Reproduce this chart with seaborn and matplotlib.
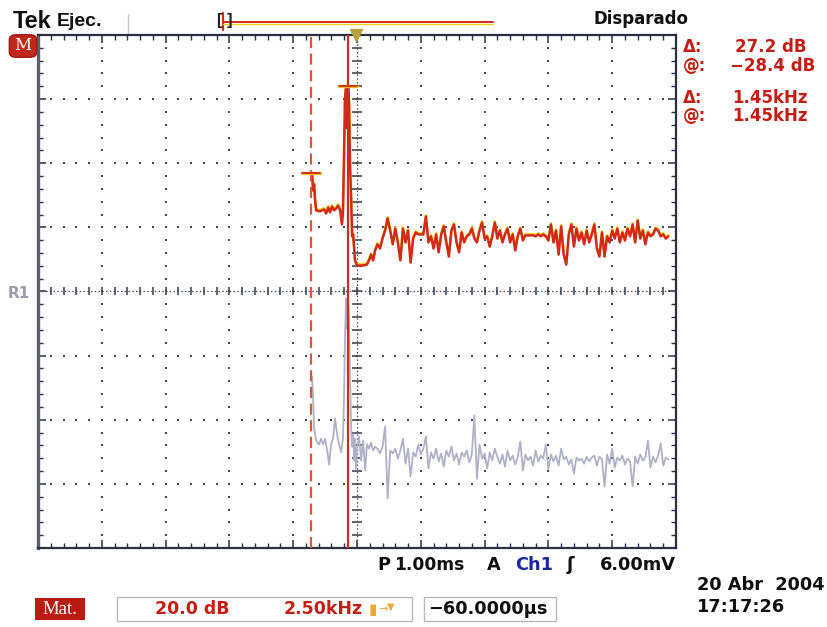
import numpy as np
import matplotlib
matplotlib.use("Agg")
import matplotlib.pyplot as plt
import matplotlib.transforms as mtransforms
from matplotlib.patches import FancyBboxPatch, Rectangle
import seaborn as sns

# ---------------------------------------------------------------------------
# Math (FFT) trace: frequency in kHz, level in dB
red_khz = [0.00, 0.04, 0.08, 0.12, 0.16, 0.20, 0.35, 0.51, 0.59, 0.67, 0.74, 0.82,
           0.90, 0.98, 1.06, 1.14, 1.21, 1.25, 1.29, 1.33, 1.37, 1.41, 1.45, 1.49,
           1.53, 1.57, 1.61, 1.65, 1.72, 1.80, 2.04, 2.19, 2.27, 2.35, 2.43, 2.51,
           2.6, 2.7, 2.8, 2.9, 3.0, 3.1, 3.2, 3.3, 3.4, 3.5, 3.6, 3.7, 3.8, 3.9,
           4.0, 4.1, 4.2, 4.3, 4.4, 4.5, 4.6, 4.7, 4.8, 4.9, 5.0, 5.1, 5.2, 5.3,
           5.4, 5.5, 5.6, 5.7, 5.8, 5.9, 6.0, 6.1, 6.2, 6.3, 6.4, 6.5, 6.6, 6.7,
           6.8, 6.9, 7.0, 7.1, 7.2, 7.3, 7.4, 7.5, 7.6, 7.7, 7.8, 7.9, 8.0, 8.1,
           8.2, 8.3, 8.4, 8.5, 8.6, 8.7, 8.8, 8.9, 9.0, 9.1, 9.2, 9.3, 9.4, 9.5,
           9.6, 9.7, 9.8, 9.9, 10.0, 10.1, 10.2, 10.3, 10.4, 10.5, 10.6, 10.7,
           10.8, 10.9, 11.0, 11.1, 11.2, 11.3, 11.4, 11.5, 11.6, 11.7, 11.8, 11.9,
           12.0, 12.1, 12.2, 12.3, 12.4, 12.5, 12.6, 12.7, 12.8, 12.9, 13.0, 13.1,
           13.2, 13.3, 13.4, 13.5, 13.6, 13.7, 13.8, 13.9, 14.0]
red_db = [-55.6, -56.1, -61.1, -59.2, -64.5, -67.3, -67.6, -67.0, -68.3, -66.4, -67.9, -66.1,
          -67.3, -66.7, -65.8, -67.3, -71.7, -67.9, -51.1, -32.4, -29.3, -41.7, -28.4, -34.0,
          -54.2, -63.6, -75.4, -74.8, -82.9, -84.5, -84.5, -84.2, -82.9, -81.1, -82.9, -79.8,
          -77.9, -79.2, -76.1, -73.6, -69.8, -73.6, -77.9, -73.0, -77.3, -82.9, -73.0, -77.3, -73.6, -83.6,
          -76.1, -74.2, -74.8, -74.8, -74.8, -69.2, -77.3, -75.4, -79.2, -74.8, -80.4, -74.8, -72.3, -77.3,
          -81.7, -73.6, -71.7, -77.3, -80.4, -74.2, -77.3, -75.4, -74.8, -73.0, -76.1, -77.3, -73.6, -71.1,
          -76.1, -75.4, -78.6, -75.4, -71.1, -76.1, -73.6, -77.3, -74.8, -73.0, -77.3, -74.8, -79.8, -75.4,
          -73.0, -76.7, -75.1, -75.1, -75.1, -75.1, -75.4, -74.8, -75.4, -74.8, -75.4, -76.7, -71.7, -77.3,
          -73.6, -81.1, -72.3, -81.1, -84.2, -74.8, -71.7, -78.6, -73.0, -76.7, -74.2, -77.9,
          -73.6, -77.3, -74.8, -71.7, -79.2, -81.7, -74.2, -81.7, -75.4, -77.3, -73.6, -76.1,
          -73.0, -77.3, -74.2, -76.7, -73.0, -75.4, -71.7, -77.3, -70.5, -76.1, -73.6, -77.9,
          -74.2, -75.4, -74.8, -73.0, -73.6, -75.4, -74.8, -76.1, -75.4]

# Stored reference waveform R1 (same frequency axis)
ref_khz = [0.04, 0.08, 0.12, 0.20, 0.31, 0.39, 0.47, 0.55, 0.63, 0.71, 0.78, 0.86,
           0.94, 1.02, 1.10, 1.18, 1.25, 1.29, 1.33, 1.37, 1.41, 1.45, 1.49, 1.53,
           1.57, 1.61, 1.65, 1.69, 1.72, 1.76, 1.80, 1.88, 1.96, 2.04, 2.12, 2.19,
           2.27, 2.35, 2.43, 2.51,
           2.6, 2.7, 2.8, 2.9, 3.0, 3.1, 3.2, 3.3, 3.4, 3.5, 3.6, 3.7, 3.8, 3.9,
           4.0, 4.1, 4.2, 4.3, 4.4, 4.5, 4.6, 4.7, 4.8, 4.9, 5.0, 5.1, 5.2, 5.3,
           5.4, 5.5, 5.6, 5.7, 5.8, 5.9, 6.0, 6.1, 6.2, 6.3, 6.4, 6.5, 6.6, 6.7,
           6.8, 6.9, 7.0, 7.1, 7.2, 7.3, 7.4, 7.5, 7.6, 7.7, 7.8, 7.9, 8.0, 8.1,
           8.2, 8.3, 8.4, 8.5, 8.6, 8.7, 8.8, 8.9, 9.0, 9.1, 9.2, 9.3, 9.4, 9.5,
           9.6, 9.7, 9.8, 9.9, 10.0, 10.1, 10.2, 10.3, 10.4, 10.5, 10.6, 10.7,
           10.8, 10.9, 11.0, 11.1, 11.2, 11.3, 11.4, 11.5, 11.6, 11.7, 11.8, 11.9,
           12.0, 12.1, 12.2, 12.3, 12.4, 12.5, 12.6, 12.7, 12.8, 12.9, 13.0, 13.1,
           13.2, 13.3, 13.4, 13.5, 13.6, 13.7, 13.8, 13.9, 14.0]
ref_db = [-119.1, -126.0, -135.3, -139.1, -140.3, -138.5, -140.3, -138.5, -142.2, -146.6, -140.3, -138.5,
          -132.2, -137.2, -140.3, -142.8, -138.5, -126.0, -107.3, -94.8, -104.1, -94.8, -101.0, -119.7,
          -135.3, -141.0, -137.2, -145.3, -138.5, -147.8, -141.6, -137.8, -145.3, -139.1, -148.4, -140.3,
          -141.6, -139.7, -142.2, -141.0,
          -141.6, -143.1, -141.0, -134.7, -157.2, -142.2, -143.1, -141.6, -144.7, -142.2, -138.5, -146.3, -141.6, -150.3,
          -142.8, -144.1, -140.3, -143.4, -141.6, -137.8, -147.8, -142.8, -144.7, -141.6, -145.6, -143.1, -147.2, -142.2,
          -144.1, -140.9, -145.3, -143.1, -146.6, -142.8, -144.1, -142.2, -145.9, -143.4, -131.3, -151.0, -140.3, -144.7,
          -143.1, -147.8, -142.8, -145.3, -141.6, -144.1, -146.3, -143.4, -147.2, -142.2, -145.3, -143.8, -146.6, -144.1,
          -139.4, -148.4, -143.4, -145.3, -144.1, -146.9, -142.2, -145.6, -143.8, -144.7, -140.3, -148.1, -143.4, -145.6,
          -143.8, -146.9, -141.6, -145.0, -144.1, -146.6, -145.0, -149.4, -144.4, -145.3, -144.7, -146.3,
          -144.1, -145.6, -144.4, -143.8, -146.9, -144.1, -145.0, -153.4, -143.4, -146.3, -141.6, -147.5,
          -144.4, -145.3, -143.8, -146.6, -144.7, -145.6, -153.4, -144.1, -146.3, -143.4, -145.3, -144.4,
          -139.1, -147.5, -144.1, -145.9, -143.8, -140.0, -146.9, -144.4, -145.0]

# Cursor pair (frequency, level)
cursor_khz = [0.0, 1.45]
cursor_db = [-55.6, -28.4]

# Screen scaling
khz_per_div = 2.5
db_per_div = 20.0
x_left = -10.7
y_mid = -92.6

# ---------------------------------------------------------------------------
sns.set_style("white")
plt.rcParams["font.family"] = ["DejaVu Sans"]

W, H = 828, 627
fig = plt.figure(figsize=(W / 100, H / 100), dpi=100)
fig.patch.set_facecolor("white")


def fp(x, y):
    return x / W, 1 - y / H


L, R, T, B = 38, 676, 35, 548
ax = fig.add_axes([L / W, 1 - B / H, (R - L) / W, (B - T) / H])
x_right = x_left + 10 * khz_per_div
y_bot = y_mid - 4 * db_per_div
y_top = y_mid + 4 * db_per_div
ax.set_xlim(x_left, x_right)
ax.set_ylim(y_bot, y_top)
ax.set_facecolor("white")

# graticule ---------------------------------------------------------------
grid_col = "#44485a"
xs_major = [x_left + k * khz_per_div for k in range(11)]
ys_major = [y_bot + k * db_per_div for k in range(9)]
xs_fine = np.linspace(x_left, x_right, 51)
ys_fine = np.linspace(y_bot, y_top, 41)
xc = x_left + 5 * khz_per_div
for xv in xs_major[1:-1]:
    if abs(xv - xc) < 1e-6:
        continue
    ax.plot([xv] * len(ys_fine), ys_fine, ls="none", marker="s", ms=1.7,
            color=grid_col, mew=0, zorder=1)
for yv in ys_major[1:-1]:
    if abs(yv - y_mid) < 1e-6:
        continue
    ax.plot(xs_fine, [yv] * len(xs_fine), ls="none", marker="s", ms=1.7,
            color=grid_col, mew=0, zorder=1)

# centre cross-hair with minor ticks
ax.plot([x_left, x_right], [y_mid, y_mid], color=grid_col, lw=0.9,
        ls=(0, (1.2, 1.8)), zorder=1)
ax.plot([xc, xc], [y_bot, y_top], color=grid_col, lw=0.9,
        ls=(0, (1.2, 1.8)), zorder=1)
ax.plot(xs_fine, [y_mid] * len(xs_fine), ls="none", marker="|", ms=6,
        mew=1.2, color=grid_col, zorder=1)
ax.plot([xc] * len(ys_fine), ys_fine, ls="none", marker="_", ms=7,
        mew=1.2, color=grid_col, zorder=1)

ax.set_xticks(xs_major)
ax.set_yticks(ys_major)
ax.set_xticks(xs_fine, minor=True)
ax.set_yticks(ys_fine, minor=True)
ax.tick_params(which="both", direction="in", top=True, right=True,
               bottom=True, left=True, labelbottom=False, labelleft=False,
               color="#2a3040")
ax.tick_params(which="major", length=6, width=1.1)
ax.tick_params(which="minor", length=3.5, width=1.0)
for side, sp in ax.spines.items():
    sp.set_color("#2a3040")
    sp.set_linewidth(1.6)
ax.spines["left"].set_color("#5a6070")
ax.spines["left"].set_linewidth(2.4)

# traces ------------------------------------------------------------------
sns.lineplot(x=ref_khz, y=ref_db, ax=ax, color="#b0b0c6", lw=1.3,
             estimator=None, sort=False, zorder=3)

up = mtransforms.offset_copy(ax.transData, fig=fig, x=0, y=1.3, units="dots")
sns.lineplot(x=red_khz, y=red_db, ax=ax, color="#f2d21a", lw=1.7,
             estimator=None, sort=False, zorder=4)
ax.lines[-1].set_transform(up)
sns.lineplot(x=red_khz, y=red_db, ax=ax, color="#d4281a", lw=1.8,
             estimator=None, sort=False, zorder=5)

# cursors
ax.axvline(cursor_khz[0], color="#d85a30", lw=1.6, ls=(0, (5, 2.5)), zorder=6)
ax.axvline(cursor_khz[1], color="#c8301c", lw=1.6, zorder=6)
half = 0.35
for cx, cy in zip(cursor_khz, cursor_db):
    ax.plot([cx - half, cx + half], [cy, cy], color="#f0c020", lw=2.4, zorder=7)
    ax.plot([cx - half, cx + half], [cy, cy], color="#d4281a", lw=1.3, zorder=8)

# trigger-level marker on top edge
ax.plot([xc - 0.03], [y_top], marker="v", ms=8, color="#b8a040",
        clip_on=False, zorder=9)

# header ------------------------------------------------------------------
fig.text(*fp(13, 22), "Tek", fontsize=17, fontweight="heavy",
         va="center", ha="left", color="#101010", family="Liberation Sans")
fig.text(*fp(57, 22), "Ejec.", fontsize=14, fontweight="bold",
         va="center", ha="left", color="#101010", family="Liberation Sans")
fig.add_artist(plt.Line2D([128 / W, 128 / W], [1 - 14 / H, 1 - 33 / H],
                          color="#c8c8d0", lw=1.0))
# trigger position bracket and record bar
fig.text(*fp(216, 21), "[", fontsize=12, fontweight="bold",
         va="center", ha="left", color="#202020", family="Liberation Sans")
fig.text(*fp(227, 21), "]", fontsize=12, fontweight="bold",
         va="center", ha="left", color="#202020", family="Liberation Sans")
fig.add_artist(plt.Line2D([223 / W, 223 / W], [1 - 13 / H, 1 - 30 / H],
                          color="#d4281a", lw=1.6))
fig.add_artist(plt.Line2D([223 / W, 493 / W], [1 - 23.5 / H, 1 - 23.5 / H],
                          color="#f0d020", lw=1.0))
fig.add_artist(plt.Line2D([223 / W, 493 / W], [1 - 22 / H, 1 - 22 / H],
                          color="#d4281a", lw=1.4))
fig.text(*fp(594, 19), "Disparado", fontsize=12, fontweight="bold",
         va="center", ha="left", color="#101010")

# M badge
fig.add_artist(FancyBboxPatch(fp(11, 56), 24 / W, 20 / H,
                              boxstyle="round,pad=0.002,rounding_size=0.008",
                              transform=fig.transFigure, fc="#c0281c",
                              ec="#a01810", lw=1))
fig.text(*fp(23, 46), "M", fontsize=12, color="white", ha="center",
         va="center", family="DejaVu Serif")

# cursor readouts
red_txt = "#c41e14"
delta_db = cursor_db[1] - cursor_db[0]
delta_khz = cursor_khz[1] - cursor_khz[0]
rows = [("\u0394:", f"{delta_db:.1f} dB", 47, 807),
        ("@:", f"\u2212{abs(cursor_db[1]):.1f} dB", 66, 815),
        ("\u0394:", f"{delta_khz:.2f}kHz", 98, 808),
        ("@:", f"{cursor_khz[1]:.2f}kHz", 116, 808)]
for lab, val, yy, xr in rows:
    fig.text(*fp(683, yy), lab, fontsize=12, fontweight="bold",
             color=red_txt, va="center", ha="left")
    fig.text(*fp(xr, yy), val, fontsize=12, fontweight="bold",
             color=red_txt, va="center", ha="right")

# R1 reference label
fig.text(*fp(8, 294), "R1", fontsize=11, fontweight="bold",
         color="#9a9aac", va="center", ha="left")

# footer ------------------------------------------------------------------
fy = 565
fs = 12.8
fig.text(*fp(377, fy), "P", fontsize=fs, fontweight="bold", va="center",
         ha="left", color="#101010")
fig.text(*fp(394, fy), "1.00ms", fontsize=12.3, fontweight="bold",
         va="center", ha="left", color="#101010")
fig.text(*fp(487, fy), "A", fontsize=fs, fontweight="bold", va="center",
         ha="left", color="#101010")
fig.text(*fp(515, fy), "Ch1", fontsize=fs, fontweight="bold",
         va="center", ha="left", color="#1a28a0")
fig.text(*fp(567, fy), "\u0283", fontsize=13, fontweight="bold",
         va="center", ha="left", color="#101010")
fig.text(*fp(600, fy), "6.00mV", fontsize=fs, fontweight="bold",
         va="center", ha="left", color="#101010")

fig.text(*fp(697, 585), "20 Abr  2004", fontsize=fs, fontweight="bold",
         va="center", ha="left", color="#101010")
fig.text(*fp(697, 607), "17:17:26", fontsize=fs, fontweight="bold",
         va="center", ha="left", color="#101010")

# Mat. badge
fig.add_artist(Rectangle(fp(35, 620), 50 / W, 22 / H,
                         transform=fig.transFigure, fc="#b81c10", ec="none"))
fig.text(*fp(60, 609), "Mat.", fontsize=13.5, color="white", ha="center",
         va="center", family="Liberation Serif")

# math settings boxes
fig.add_artist(Rectangle(fp(117, 621), 295 / W, 24 / H,
                         transform=fig.transFigure, fc="none",
                         ec="#b8b8c4", lw=1.0))
fig.text(*fp(155, 609), "20.0 dB", fontsize=12.5, fontweight="bold",
         color=red_txt, va="center", ha="left")
fig.text(*fp(284, 609), "2.50kHz", fontsize=12.5, fontweight="bold",
         color=red_txt, va="center", ha="left")
fig.text(*fp(369, 609), "\u25ae", fontsize=11, color="#f0a830",
         va="center", ha="left")
fig.text(*fp(378, 609), "\u2192", fontsize=8, color="#f0a830",
         va="center", ha="left")
fig.text(*fp(387, 607), "\u25bc", fontsize=7, color="#f0a830",
         va="center", ha="left")
fig.add_artist(Rectangle(fp(424, 621), 132 / W, 24 / H,
                         transform=fig.transFigure, fc="none",
                         ec="#b8b8c4", lw=1.0))
fig.text(*fp(428, 609), "\u221260.0000\u00b5s", fontsize=12.8,
         fontweight="bold", color="#101010", va="center", ha="left")

fig.savefig("out.png", dpi=100, facecolor="white")
